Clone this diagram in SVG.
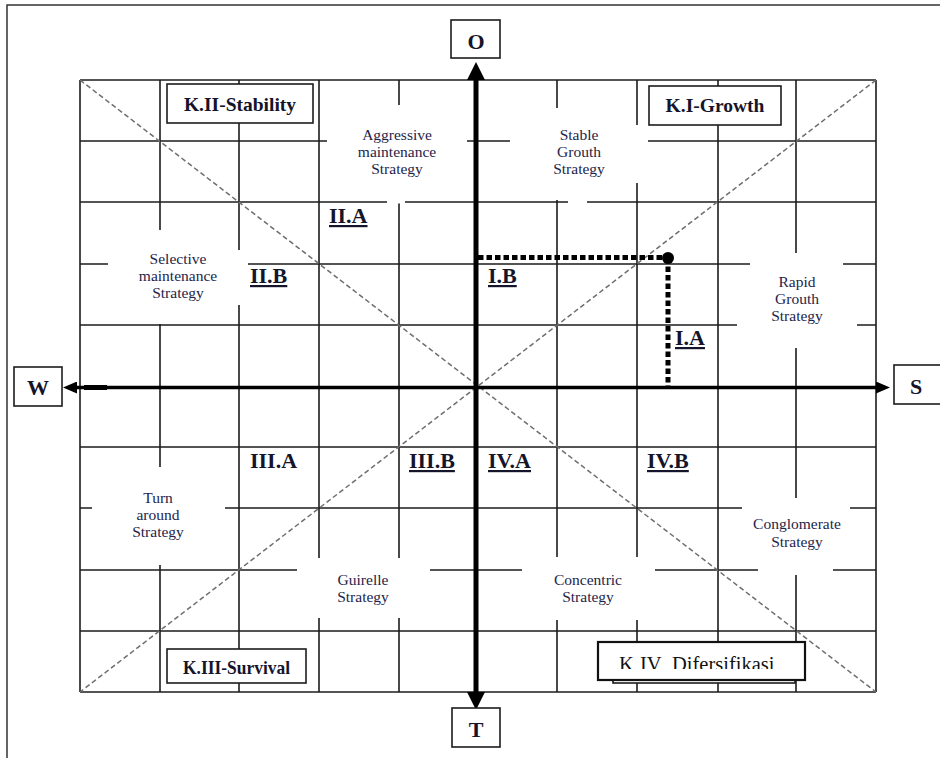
<svg xmlns="http://www.w3.org/2000/svg" width="940" height="758" viewBox="0 0 940 758">
<style>
.frame{stroke:#333;stroke-width:1.5;fill:none}
.grid{stroke:#1c1c1c;stroke-width:1.6;fill:none}
.mask{fill:#fff;stroke:none}
.diag{stroke:#6e6e6e;stroke-width:1.5;stroke-dasharray:5 3;fill:none}
.box{fill:#fff;stroke:#1c1c1c;stroke-width:1.6}
.bold{font-family:"Liberation Serif","Times New Roman",serif;font-weight:bold;fill:#14142a}
.k{font-size:19.5px;text-anchor:middle}
.ax{font-size:22px;text-anchor:middle}
.rn{font-size:22px;text-decoration:underline}
.rnp{font-size:22px}
.strat{font-family:"Liberation Serif","Times New Roman",serif;font-size:15.5px;fill:#24244a;text-anchor:middle}
.dot{stroke:#000;stroke-width:5;stroke-dasharray:5.5 3;fill:none}
</style>
<defs>
<marker id="arrV" markerUnits="userSpaceOnUse" viewBox="0 0 18 18" markerWidth="18" markerHeight="18" refX="0" refY="9" orient="auto-start-reverse">
<path d="M0,0 L18,9 L0,18 z" fill="#000"/>
</marker>
<marker id="arrH" markerUnits="userSpaceOnUse" viewBox="0 0 14 12" markerWidth="14" markerHeight="12" refX="0" refY="6" orient="auto-start-reverse">
<path d="M0,0 L14,6 L0,12 z" fill="#000"/>
</marker>
<clipPath id="clipK4"><rect x="598" y="642" width="207" height="27"/></clipPath>
</defs>

<path class="frame" d="M7,758 V5 H940"/>

<g id="grid">
<path class="grid" d="M80,80V692 M160,80V692 M239,80V692 M319,80V692 M399,80V692 M557,80V692 M637,80V692 M718,80V692 M796,80V692 M876,80V692 M80,80H876 M80,141H876 M80,202H876 M80,264H876 M80,325H876 M80,387H876 M80,447H876 M80,508H876 M80,570H876 M80,631H876 M80,692H876"/>
</g>

<g id="masks">
<rect class="mask" x="327" y="105" width="140" height="96"/>
<rect class="mask" x="387" y="200.5" width="18" height="3"/>
<rect class="mask" x="510" y="125" width="138" height="58"/>
<rect class="mask" x="530" y="108" width="70" height="92"/>
<rect class="mask" x="568" y="200.5" width="19" height="3"/>
<rect class="mask" x="108" y="250" width="140" height="55"/>
<rect class="mask" x="150" y="230" width="45" height="94"/>
<rect class="mask" x="750" y="253" width="93" height="95"/>
<rect class="mask" x="737" y="300" width="120" height="40"/>
<rect class="mask" x="92" y="467" width="133" height="98"/>
<rect class="mask" x="297" y="558" width="133" height="60"/>
<rect class="mask" x="522" y="557" width="133" height="63"/>
<rect class="mask" x="742" y="498" width="108" height="62"/>
<rect class="mask" x="758" y="498" width="75" height="77"/>
</g>

<g id="diagonals">
<path class="diag" d="M80,80 L876,692 M876,80 L80,692"/>
</g>

<g id="connectors">
<line x1="476" y1="692" x2="476" y2="80" stroke="#000" stroke-width="5" marker-start="url(#arrV)" marker-end="url(#arrV)"/>
<line x1="77" y1="387.5" x2="876" y2="387.5" stroke="#000" stroke-width="3.5" marker-start="url(#arrH)" marker-end="url(#arrH)"/>
<rect x="84" y="385" width="23" height="5" fill="#000"/>
<path class="dot" d="M478,257.5 H668"/>
<path class="dot" d="M668,258 V386"/>
<circle cx="668" cy="258" r="6" fill="#000"/>
</g>

<g id="node-O"><rect class="box" x="451" y="20" width="49" height="38"/><text class="bold ax" x="476" y="49">O</text></g>
<g id="node-T"><rect class="box" x="452" y="708" width="48" height="39"/><text class="bold ax" x="476" y="737">T</text></g>
<g id="node-W"><rect class="box" x="14" y="367" width="48" height="39"/><text class="bold ax" x="38" y="395">W</text></g>
<g id="node-S"><rect class="box" x="894" y="365" width="50" height="39"/><text class="bold ax" x="916" y="394">S</text></g>

<g id="node-KII"><rect class="box" x="167" y="84" width="146" height="39"/><text class="bold k" x="240" y="111">K.II-Stability</text></g>
<g id="node-KI"><rect class="box" x="649" y="86" width="132" height="39"/><text class="bold k" x="715" y="112">K.I-Growth</text></g>
<g id="node-KIII"><rect class="box" x="167" y="649" width="139" height="34"/><text class="bold k" x="236.5" y="674" textLength="107" lengthAdjust="spacingAndGlyphs">K.III-Survival</text></g>
<g id="node-KIV">
<rect class="box" x="613" y="648" width="182" height="35"/>
<rect x="598" y="642" width="207" height="38" fill="#fff" stroke="#111" stroke-width="2.2"/>
<text clip-path="url(#clipK4)" font-family="'Liberation Serif','Times New Roman',serif" font-size="20.5" fill="#111" y="671"><tspan x="619">K</tspan> <tspan x="640">IV</tspan> <tspan x="672">Difersifikasi</tspan></text>
</g>

<g id="node-IIA"><text class="bold rn" x="329" y="223">II.A</text></g>
<g id="node-IIB"><text class="bold rn" x="250" y="283">II.B</text></g>
<g id="node-IB"><text class="bold rn" x="488" y="283">I.B</text></g>
<g id="node-IA"><text class="bold rn" x="675" y="345">I.A</text></g>
<g id="node-IIIA"><text class="bold rnp" x="250" y="468">III.A</text></g>
<g id="node-IIIB"><text class="bold rn" x="409" y="468">III.B</text></g>
<g id="node-IVA"><text class="bold rn" x="488" y="468">IV.A</text></g>
<g id="node-IVB"><text class="bold rn" x="647" y="468">IV.B</text></g>

<g id="node-aggressive"><text class="strat" x="397" y="140">Aggressive</text><text class="strat" x="397" y="157">maintenance</text><text class="strat" x="397" y="174">Strategy</text></g>
<g id="node-stable"><text class="strat" x="579" y="140">Stable</text><text class="strat" x="579" y="157">Grouth</text><text class="strat" x="579" y="174">Strategy</text></g>
<g id="node-selective"><text class="strat" x="178" y="264">Selective</text><text class="strat" x="178" y="281">maintenance</text><text class="strat" x="178" y="298">Strategy</text></g>
<g id="node-rapid"><text class="strat" x="797" y="287">Rapid</text><text class="strat" x="797" y="304">Grouth</text><text class="strat" x="797" y="321">Strategy</text></g>
<g id="node-turn"><text class="strat" x="158" y="503">Turn</text><text class="strat" x="158" y="520">around</text><text class="strat" x="158" y="537">Strategy</text></g>
<g id="node-guirelle"><text class="strat" x="363" y="585">Guirelle</text><text class="strat" x="363" y="602">Strategy</text></g>
<g id="node-concentric"><text class="strat" x="588" y="585">Concentric</text><text class="strat" x="588" y="602">Strategy</text></g>
<g id="node-conglomerate"><text class="strat" x="797" y="529">Conglomerate</text><text class="strat" x="797" y="547">Strategy</text></g>
</svg>
